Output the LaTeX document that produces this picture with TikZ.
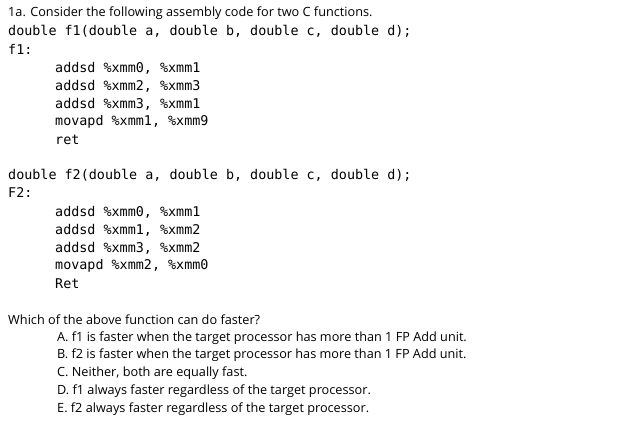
\documentclass[tikz,border=0pt]{standalone}
\usepackage{fontspec}
\setmainfont{Open Sans}
\setmonofont{DejaVu Sans Mono}
\begin{document}
\begin{tikzpicture}[x=1pt,y=-1pt,
  sans/.style={anchor=west,inner sep=0pt,font=\fontsize{12.7}{14}\selectfont},
  mono/.style={anchor=west,inner sep=0pt,font=\ttfamily\fontsize{13.4}{15}\selectfont}]
\useasboundingbox[fill=white] (0,0) rectangle (631,435);
\node[sans] (t) at (8,13) {1a. Consider the following assembly code for two C functions.};
\node[mono] (d1) at (8,31) {double f1(double a, double b, double c, double d);};
\node[mono] (f1) at (8,49) {f1:};
\node[mono] (a1) at (55,68) {addsd \%xmm0, \%xmm1};
\node[mono] (a2) at (55,86) {addsd \%xmm2, \%xmm3};
\node[mono] (a3) at (55,104) {addsd \%xmm3, \%xmm1};
\node[mono] (a4) at (55,122) {movapd \%xmm1, \%xmm9};
\node[mono] (a5) at (55,140) {ret};
\node[mono] (d2) at (8,175) {double f2(double a, double b, double c, double d);};
\node[mono] (f2) at (8,193) {F2:};
\node[mono] (b1) at (55,212) {addsd \%xmm0, \%xmm1};
\node[mono] (b2) at (55,230) {addsd \%xmm1, \%xmm2};
\node[mono] (b3) at (55,248) {addsd \%xmm3, \%xmm2};
\node[mono] (b4) at (55,266) {movapd \%xmm2, \%xmm0};
\node[mono] (b5) at (55,284) {Ret};
\node[sans] (q) at (8,320) {Which of the above function can do faster?};
\node[sans] (oA) at (57,338) {A. f1 is faster when the target processor has more than 1 FP Add unit.};
\node[sans] (oB) at (57,355) {B. f2 is faster when the target processor has more than 1 FP Add unit.};
\node[sans] (oC) at (57,373) {C. Neither, both are equally fast.};
\node[sans] (oD) at (57,391) {D. f1 always faster regardless of the target processor.};
\node[sans] (oE) at (57,409) {E. f2 always faster regardless of the target processor.};
\end{tikzpicture}
\end{document}
